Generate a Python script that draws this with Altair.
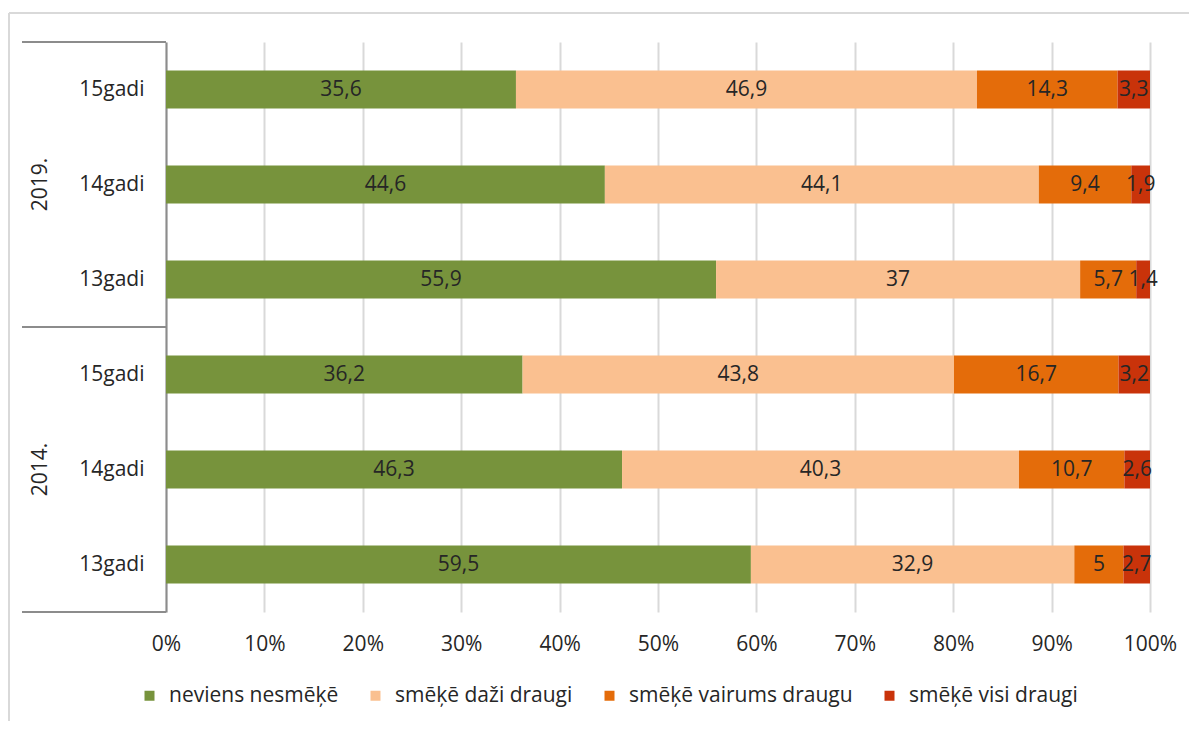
import altair as alt
import pandas as pd

# ---- data ----
years = ["2019.", "2019.", "2019.", "2014.", "2014.", "2014."]
ages = ["15gadi", "14gadi", "13gadi", "15gadi", "14gadi", "13gadi"]
series = ["neviens nesmēķē", "smēķē daži draugi", "smēķē vairums draugu", "smēķē visi draugi"]
neviens = [35.6, 44.6, 55.9, 36.2, 46.3, 59.5]
dazi = [46.9, 44.1, 37, 43.8, 40.3, 32.9]
vairums = [14.3, 9.4, 5.7, 16.7, 10.7, 5]
visi = [3.3, 1.9, 1.4, 3.2, 2.6, 2.7]
colors = ["#77933C", "#FAC090", "#E46C0A", "#C9330A"]

FONT = "Open Sans"
FS = 21

keys = [f"{y}|{a}" for y, a in zip(years, ages)]
rows = []
for si, (name, vals) in enumerate(zip(series, [neviens, dazi, vairums, visi])):
    for k, v in zip(keys, vals):
        rows.append({"key": k, "series": name, "order": si, "value": v,
                     "label": f"{v:g}".replace(".", ",")})
df = pd.DataFrame(rows)

year_df = pd.DataFrame({"key": [keys[1], keys[4]], "year": [years[1], years[4]]})
one = pd.DataFrame({"a": [0]})

yenc = alt.Y("key:N", sort=keys,
             scale=alt.Scale(paddingInner=0.6, paddingOuter=0.3),
             axis=alt.Axis(title=None, labelExpr="split(datum.label,'|')[1]",
                           ticks=False, tickSize=0, labelPadding=22,
                           labelFont=FONT, labelFontSize=FS, labelColor="#262626",
                           domainColor="#8c8c8c", domainWidth=2, grid=False))

base = alt.Chart(df).transform_stack(
    stack="value", as_=["v0", "v1"], groupby=["key"], offset="normalize",
    sort=[alt.SortField("order", "ascending")]
)

bars = base.mark_bar().encode(
    y=yenc,
    x=alt.X("v0:Q", scale=alt.Scale(domain=[0, 1], nice=False),
            axis=alt.Axis(title=None, format=".0%", values=[i / 10 for i in range(11)],
                          ticks=False, tickSize=0, domain=False, labelPadding=21,
                          labelFlush=False,
                          labelFont=FONT, labelFontSize=FS, labelColor="#262626",
                          gridColor="#d9d9d9", gridWidth=2)),
    x2="v1:Q",
    color=alt.Color("series:N", scale=alt.Scale(domain=series, range=colors),
                    legend=alt.Legend(title=None, orient="none", direction="horizontal",
                                      legendX=-27, legendY=643, symbolType="square",
                                      symbolSize=100, symbolStrokeWidth=0,
                                      labelFont=FONT, labelFontSize=FS, labelColor="#262626",
                                      labelLimit=0,
                                      labelOffset=9, columnPadding=26, padding=0)),
    order=alt.Order("order:Q"),
)

texts = base.transform_calculate(mid="(datum.v0 + datum.v1) / 2").mark_text(
    font=FONT, fontSize=FS, color="#262626", align="center", baseline="middle"
).encode(y=alt.Y("key:N", sort=keys), x=alt.X("mid:Q"), text="label:N")

year_text = alt.Chart(year_df).mark_text(
    font=FONT, fontSize=FS, color="#262626", angle=270, align="center", baseline="middle"
).encode(y=alt.Y("key:N", sort=keys), x=alt.value(-125), text="year:N")

frame_color = "#8c8c8c"
sep_top = alt.Chart(one).mark_rule(color=frame_color, strokeWidth=2).encode(
    x=alt.value(-144), x2=alt.value(0), y=alt.value(0))
sep_mid = alt.Chart(one).mark_rule(color=frame_color, strokeWidth=2).encode(
    x=alt.value(-144), x2=alt.value(0), y=alt.value(285))
sep_bot = alt.Chart(one).mark_rule(color=frame_color, strokeWidth=2).encode(
    x=alt.value(-144), x2=alt.value(0), y=alt.value(570))

border_left = alt.Chart(one).mark_rule(color="#d9d9d9", strokeWidth=2).encode(
    x=alt.value(-157), y=alt.value(-29), y2=alt.value(700))
border_top = alt.Chart(one).mark_rule(color="#d9d9d9", strokeWidth=2).encode(
    x=alt.value(-157), x2=alt.value(1040), y=alt.value(-29))

chart = alt.layer(border_left, border_top, bars, texts, year_text, sep_top, sep_mid, sep_bot).properties(
    width=984, height=570,
    padding={"left": 158, "top": 34, "right": 39, "bottom": 109},
    autosize=alt.AutoSizeParams(type="none"),
).configure_view(stroke=None)

chart.save("out.html", embed_options={"renderer": "svg", "actions": False})
